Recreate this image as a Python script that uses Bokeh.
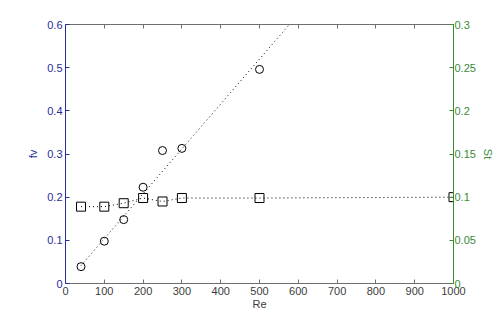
from bokeh.plotting import figure
from bokeh.models import LinearAxis, Range1d, FixedTicker
from bokeh.embed import file_html
from bokeh.resources import INLINE

# data
re_fv = [40, 100, 150, 200, 250, 300, 500]
fv = [0.039, 0.098, 0.148, 0.223, 0.308, 0.313, 0.496]
re_st = [40, 100, 150, 200, 250, 300, 500, 1000]
st = [0.089, 0.089, 0.093, 0.099, 0.095, 0.099, 0.099, 0.1]
fit_re = [40, 577]
fit_fv = [0.0415, 0.6]

x_ticks = [0, 100, 200, 300, 400, 500, 600, 700, 800, 900, 1000]
fv_ticks = [0, 0.1, 0.2, 0.3, 0.4, 0.5, 0.6]
st_ticks = [0, 0.05, 0.1, 0.15, 0.2, 0.25, 0.3]

BLUE = "#2b2b9a"
GREEN = "#3a8a3a"
GRAY = "#6e6e6e"
FONT = "Liberation Sans"
FS = "11px"

p = figure(width=500, height=318, x_range=Range1d(0, 1000), y_range=Range1d(0, 0.6),
           output_backend="svg", toolbar_location=None,
           min_border_left=65, min_border_right=47, min_border_top=24, min_border_bottom=35,
           x_axis_label="Re", y_axis_label="fv")
p.extra_y_ranges = {"st": Range1d(0, 0.3)}
p.grid.visible = False
p.outline_line_color = None
p.background_fill_color = "white"
p.border_fill_color = "white"

def style(ax, color, label_color, ticks):
    ax.ticker = FixedTicker(ticks=ticks)
    ax.axis_line_color = color
    ax.major_tick_line_color = color
    ax.minor_tick_line_color = None
    ax.major_tick_in = 4
    ax.major_tick_out = 0
    ax.major_label_text_color = label_color
    ax.major_label_text_font = FONT
    ax.major_label_text_font_size = FS
    ax.axis_label_text_color = label_color
    ax.axis_label_text_font = FONT
    ax.axis_label_text_font_size = FS
    ax.axis_label_text_font_style = "normal"

xa = p.xaxis[0]
style(xa, GRAY, "#3c3c3c", x_ticks)
xa.major_label_standoff = 3
xa.axis_label_standoff = 0

ya = p.yaxis[0]
style(ya, BLUE, BLUE, fv_ticks)
ya.major_label_standoff = 3
ya.axis_label_standoff = 5

ra = LinearAxis(y_range_name="st", axis_label="St")
style(ra, GREEN, GREEN, st_ticks)
ra.major_label_standoff = 1
ra.axis_label_standoff = 3
try:
    ra.axis_label_orientation = "vertical"
except Exception:
    pass
p.add_layout(ra, "right")

ta = LinearAxis()
style(ta, GRAY, GRAY, x_ticks)
ta.major_label_overrides = {t: "" for t in x_ticks}
ta.major_label_standoff = 0
p.add_layout(ta, "above")

p.line(fit_re, fit_fv, line_color="black", line_dash="1 3", line_width=1)
p.line(re_st, st, y_range_name="st", line_color="black", line_dash="1 3", line_width=1)
p.scatter(re_fv, fv, marker="circle", size=8, fill_color=None, line_color="black", line_width=1)
p.scatter(re_st, st, y_range_name="st", marker="square", size=9, fill_color=None,
          line_color="black", line_width=1)

open("out.html", "w").write(file_html(p, INLINE))
